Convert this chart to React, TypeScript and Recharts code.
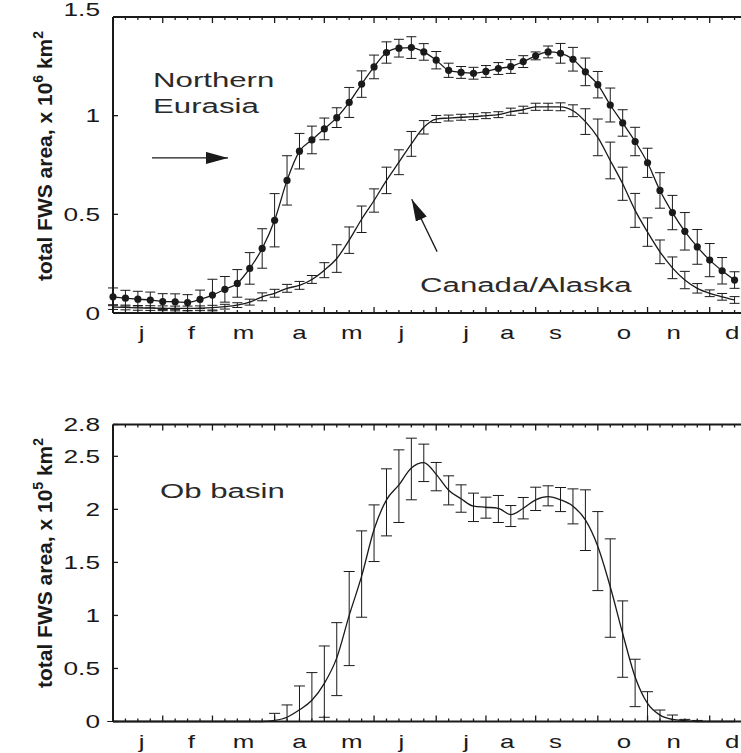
import { LineChart, Line, XAxis, YAxis, ErrorBar, ReferenceDot, ReferenceLine } from 'recharts';

// week of the year (x) and month layout
const weeks = [0, 1, 2, 3, 4, 5, 6, 7, 8, 9, 10, 11, 12, 13, 14, 15, 16, 17, 18, 19, 20, 21, 22, 23, 24, 25,
  26, 27, 28, 29, 30, 31, 32, 33, 34, 35, 36, 37, 38, 39, 40, 41, 42, 43, 44, 45, 46, 47, 48, 49, 50];
const weekTicks = [...weeks, 51];
const monthEdges = [0, 4, 8, 13, 17, 21, 26, 30, 34, 39, 43, 48, 51];
const monthLabels = ['j', 'f', 'm', 'a', 'm', 'j', 'j', 'a', 's', 'o', 'n', 'd'];
const monthLabelPos = [2.3, 6.3, 10.5, 15.0, 19.2, 23.2, 28.4, 31.7, 35.6, 41.1, 45.1, 49.8];

const topTicks = [0, 0.5, 1, 1.5];
const obTicks = [0, 0.5, 1, 1.5, 2, 2.5, 2.8];

// x 10^6 km2
const eurasia = [0.082, 0.075, 0.07, 0.066, 0.058, 0.057, 0.053, 0.069, 0.091, 0.12, 0.15,
  0.226, 0.327, 0.47, 0.672, 0.82, 0.877, 0.933, 0.99, 1.067, 1.16, 1.247,
  1.32, 1.342, 1.345, 1.323, 1.281, 1.23, 1.219, 1.215, 1.224, 1.239,
  1.249, 1.274, 1.303, 1.323, 1.316, 1.286, 1.222, 1.157, 1.054, 0.963,
  0.869, 0.761, 0.621, 0.509, 0.414, 0.335, 0.268, 0.214, 0.167];
const eurasiaErr = [0.045, 0.04, 0.04, 0.04, 0.04, 0.04, 0.04, 0.047, 0.08, 0.065, 0.07,
  0.08, 0.1, 0.135, 0.125, 0.09, 0.07, 0.055, 0.05, 0.076, 0.067, 0.06,
  0.054, 0.045, 0.055, 0.042, 0.044, 0.036, 0.03, 0.03, 0.03, 0.03,
  0.035, 0.03, 0.02, 0.03, 0.05, 0.06, 0.07, 0.067, 0.086, 0.067,
  0.072, 0.074, 0.09, 0.087, 0.095, 0.088, 0.084, 0.067, 0.042];
const canada = [0.03, 0.028, 0.026, 0.025, 0.024, 0.023, 0.023, 0.024, 0.027, 0.032, 0.04,
  0.055, 0.082, 0.1, 0.125, 0.14, 0.17, 0.217, 0.276, 0.369, 0.475, 0.57,
  0.672, 0.764, 0.857, 0.941, 0.983, 0.988, 0.992, 0.995, 1.0, 1.005,
  1.02, 1.03, 1.045, 1.045, 1.045, 1.025, 0.97, 0.89, 0.773, 0.655,
  0.52, 0.41, 0.31, 0.229, 0.167, 0.125, 0.1, 0.082, 0.066];
const canadaErr = [0.012, 0.012, 0.012, 0.012, 0.012, 0.012, 0.012, 0.012, 0.012, 0.012, 0.012,
  0.015, 0.02, 0.02, 0.02, 0.02, 0.02, 0.038, 0.07, 0.067, 0.067, 0.059,
  0.067, 0.063, 0.063, 0.034, 0.018, 0.015, 0.015, 0.015, 0.015, 0.015,
  0.018, 0.018, 0.018, 0.018, 0.02, 0.03, 0.065, 0.093, 0.093, 0.084,
  0.086, 0.072, 0.06, 0.055, 0.044, 0.024, 0.017, 0.017, 0.017];

// Ob basin, x 10^5 km2: curve plus error bar bounds
const ob = [0, 0, 0, 0, 0, 0, 0, 0, 0, 0, 0, 0, 0,
  0.01, 0.04, 0.11, 0.2, 0.36, 0.6, 1.0, 1.37, 1.81,
  2.09, 2.23, 2.39, 2.44, 2.33, 2.18, 2.1, 2.03, 2.02, 2.01,
  1.95, 2.01, 2.09, 2.12, 2.09, 2.03, 1.9, 1.65, 1.27, 0.83,
  0.42, 0.17, 0.06, 0.02, 0.008, 0, 0, 0, 0];
const obHigh = [0, 0, 0, 0, 0, 0, 0, 0, 0, 0, 0, 0, 0,
  0.077, 0.156, 0.335, 0.461, 0.712, 0.932, 1.414, 1.797, 2.042,
  2.382, 2.561, 2.671, 2.615, 2.442, 2.316, 2.231, 2.153, 2.115, 2.131,
  2.036, 2.112, 2.209, 2.222, 2.206, 2.193, 2.184, 1.979, 1.722, 1.137,
  0.587, 0.281, 0.108, 0.061, 0.02, 0.01, 0, 0, 0];
const obLow = [0, 0, 0, 0, 0, 0, 0, 0, 0, 0, 0, 0, 0,
  0, 0, 0, 0, 0.04, 0.244, 0.527, 0.983, 1.508,
  1.75, 1.876, 2.09, 2.262, 2.175, 2.042, 1.973, 1.885, 1.917, 1.876,
  1.838, 1.91, 1.989, 2.033, 1.979, 1.863, 1.612, 1.234, 0.794, 0.417,
  0.14, 0, 0, 0, 0, 0, 0, 0, 0];

const topData = weeks.map((w, i) => ({
  week: w,
  eurasia: eurasia[i],
  eurasiaErr: eurasiaErr[i],
  canada: canada[i],
  canadaErr: canadaErr[i],
}));

const obData = weeks.map((w, i) => ({
  week: w,
  ob: ob[i],
  obErr: [Math.max(0, ob[i] - obLow[i]), Math.max(0, obHigh[i] - ob[i])],
}));

const INK = '#1a1a1a';
const FONT = "'Liberation Sans', Arial, Helvetica, sans-serif";
const axisLine = { stroke: INK, strokeWidth: 2 };

// the original figure is stretched sideways, so text is too
const Stretch = ({ x, y, sx, size, anchor = 'start', fill = INK, children }: any) => (
  <text
    transform={`translate(${x},${y}) scale(${sx},1)`}
    textAnchor={anchor}
    fontSize={size}
    fontFamily={FONT}
    fill={fill}
  >
    {children}
  </text>
);

const weekTick = (dir: number) => (props: any) => {
  const { x, y, payload } = props;
  const len = monthEdges.includes(payload.value) ? 6 : 3;
  return <line x1={x} x2={x} y1={y} y2={y + dir * len} stroke={INK} strokeWidth={1.3} />;
};

const monthTick = (props: any) => {
  const { x, y, index } = props;
  return (
    <Stretch x={x} y={y + 25} sx={1.4} size={18.5} anchor="middle">
      {monthLabels[index]}
    </Stretch>
  );
};

const valueTick = (side: number, lift?: number) => (props: any) => {
  const { x, y, payload } = props;
  const shift = payload.value === lift ? -8 : 0;
  return (
    <g>
      <line x1={x} x2={x + side * 5} y1={y} y2={y} stroke={INK} strokeWidth={1.3} />
      {side > 0 && (
        <Stretch x={x - 13} y={y + 6.7 + shift} sx={1.42} size={18.5} anchor="end">
          {String(payload.value)}
        </Stretch>
      )}
    </g>
  );
};

const AxisTitle = ({ viewBox, power, lift }: any) => {
  const cx = viewBox.x + 45;
  const cy = viewBox.y + viewBox.height / 2 - lift;
  return (
    <text
      transform={`rotate(-90 ${cx} ${cy})`}
      x={cx}
      y={cy + 7}
      textAnchor="middle"
      fontFamily={FONT}
      fontWeight="bold"
      fontSize={21}
      fill={INK}
    >
      total FWS area, x 10<tspan dy={-9} fontSize={14}>{power}</tspan>
      <tspan dy={9}> km</tspan>
      <tspan dy={-9} fontSize={14}>2</tspan>
    </text>
  );
};

const note = (text: string) => (p: any) => (
  <Stretch x={p.cx} y={p.cy} sx={1.6} size={19.5} fill="#2a2a2a">
    {text}
  </Stretch>
);

const ArrowDefs = ({ id }: { id: string }) => (
  <defs>
    <marker id={id} markerWidth={22} markerHeight={12} refX={22} refY={6} orient="auto" markerUnits="userSpaceOnUse">
      <path d="M0,0 L22,6 L0,12 z" fill={INK} />
    </marker>
  </defs>
);

const App = () => {
  return (
    <div style={{ position: 'absolute', left: 0, top: 0, width: 741, height: 753, overflow: 'hidden', background: '#fff' }}>
      <div style={{ position: 'absolute', left: 0, top: 0 }}>
        <LineChart width={760} height={350} data={topData} margin={{ top: 16, right: 12, bottom: 35, left: 0 }}>
          <ArrowDefs id="headTop" />
          <XAxis xAxisId={0} dataKey="week" type="number" domain={[0, 51]} ticks={weekTicks} interval={0}
            tickSize={0} tickMargin={0} height={1} tick={weekTick(-1)} axisLine={axisLine} />
          <XAxis xAxisId="lbl" dataKey="week" type="number" domain={[0, 51]} ticks={monthLabelPos} interval={0}
            tickSize={0} tickMargin={0} height={1} tick={monthTick} axisLine={false} />
          <XAxis xAxisId="top" dataKey="week" orientation="top" type="number" domain={[0, 51]} ticks={weekTicks}
            interval={0} tickSize={0} tickMargin={0} height={1} tick={weekTick(1)} axisLine={axisLine} />
          <YAxis yAxisId={0} type="number" domain={[0, 1.5]} ticks={topTicks} interval={0} tickSize={0} tickMargin={0}
            width={113} tick={valueTick(1, 1.5)} axisLine={axisLine} label={<AxisTitle power="6" lift={9} />} />
          <YAxis yAxisId="r" orientation="right" type="number" domain={[0, 1.5]} allowDataOverflow ticks={topTicks}
            interval={0} tickSize={0} tickMargin={0} width={1} tick={valueTick(-1)} axisLine={axisLine} />

          <Line type="monotone" dataKey="canada" stroke={INK} strokeWidth={1.3} dot={false} isAnimationActive={false}>
            <ErrorBar dataKey="canadaErr" width={5} stroke={INK} strokeWidth={1} isAnimationActive={false} />
          </Line>
          <Line type="monotone" dataKey="eurasia" stroke={INK} strokeWidth={1.3}
            dot={{ r: 3.6, fill: INK, stroke: INK, strokeWidth: 0 }} isAnimationActive={false}>
            <ErrorBar dataKey="eurasiaErr" width={5} stroke={INK} strokeWidth={1} isAnimationActive={false} />
          </Line>

          <ReferenceLine segment={[{ x: 3.14, y: 0.786 }, { x: 9.25, y: 0.786 }]} stroke={INK} strokeWidth={1.3}
            markerEnd="url(#headTop)" ifOverflow="visible" />
          <ReferenceLine segment={[{ x: 26.07, y: 0.311 }, { x: 24.03, y: 0.576 }]} stroke={INK} strokeWidth={1.3}
            markerEnd="url(#headTop)" ifOverflow="visible" />
          <ReferenceDot x={3.22} y={1.144} r={1} shape={note('Northern')} />
          <ReferenceDot x={3.22} y={1.015} r={1} shape={note('Eurasia')} />
          <ReferenceDot x={24.7} y={0.108} r={1} shape={note('Canada/Alaska')} />
        </LineChart>
      </div>

      <div style={{ position: 'absolute', left: 0, top: 400 }}>
        <LineChart width={760} height={353} data={obData} margin={{ top: 23.5, right: 12, bottom: 29.5, left: 0 }}>
          <XAxis xAxisId={0} dataKey="week" type="number" domain={[0, 51]} ticks={weekTicks} interval={0}
            tickSize={0} tickMargin={0} height={1} tick={weekTick(-1)} axisLine={axisLine} />
          <XAxis xAxisId="lbl" dataKey="week" type="number" domain={[0, 51]} ticks={monthLabelPos} interval={0}
            tickSize={0} tickMargin={0} height={1} tick={monthTick} axisLine={false} />
          <XAxis xAxisId="top" dataKey="week" orientation="top" type="number" domain={[0, 51]} ticks={weekTicks}
            interval={0} tickSize={0} tickMargin={0} height={1} tick={weekTick(1)} axisLine={axisLine} />
          <YAxis yAxisId={0} type="number" domain={[0, 2.8]} ticks={obTicks} interval={0} tickSize={0} tickMargin={0}
            width={113} tick={valueTick(1)} axisLine={axisLine} label={<AxisTitle power="5" lift={10} />} />
          <YAxis yAxisId="r" orientation="right" type="number" domain={[0, 2.8]} allowDataOverflow ticks={obTicks}
            interval={0} tickSize={0} tickMargin={0} width={1} tick={valueTick(-1)} axisLine={axisLine} />

          <Line type="monotone" dataKey="ob" stroke={INK} strokeWidth={1.3} dot={false} isAnimationActive={false}>
            <ErrorBar dataKey="obErr" width={5.5} stroke={INK} strokeWidth={1} isAnimationActive={false} />
          </Line>

          <ReferenceDot x={3.78} y={2.11} r={1} shape={note('Ob basin')} />
        </LineChart>
      </div>
    </div>
  );
};

export default App;
